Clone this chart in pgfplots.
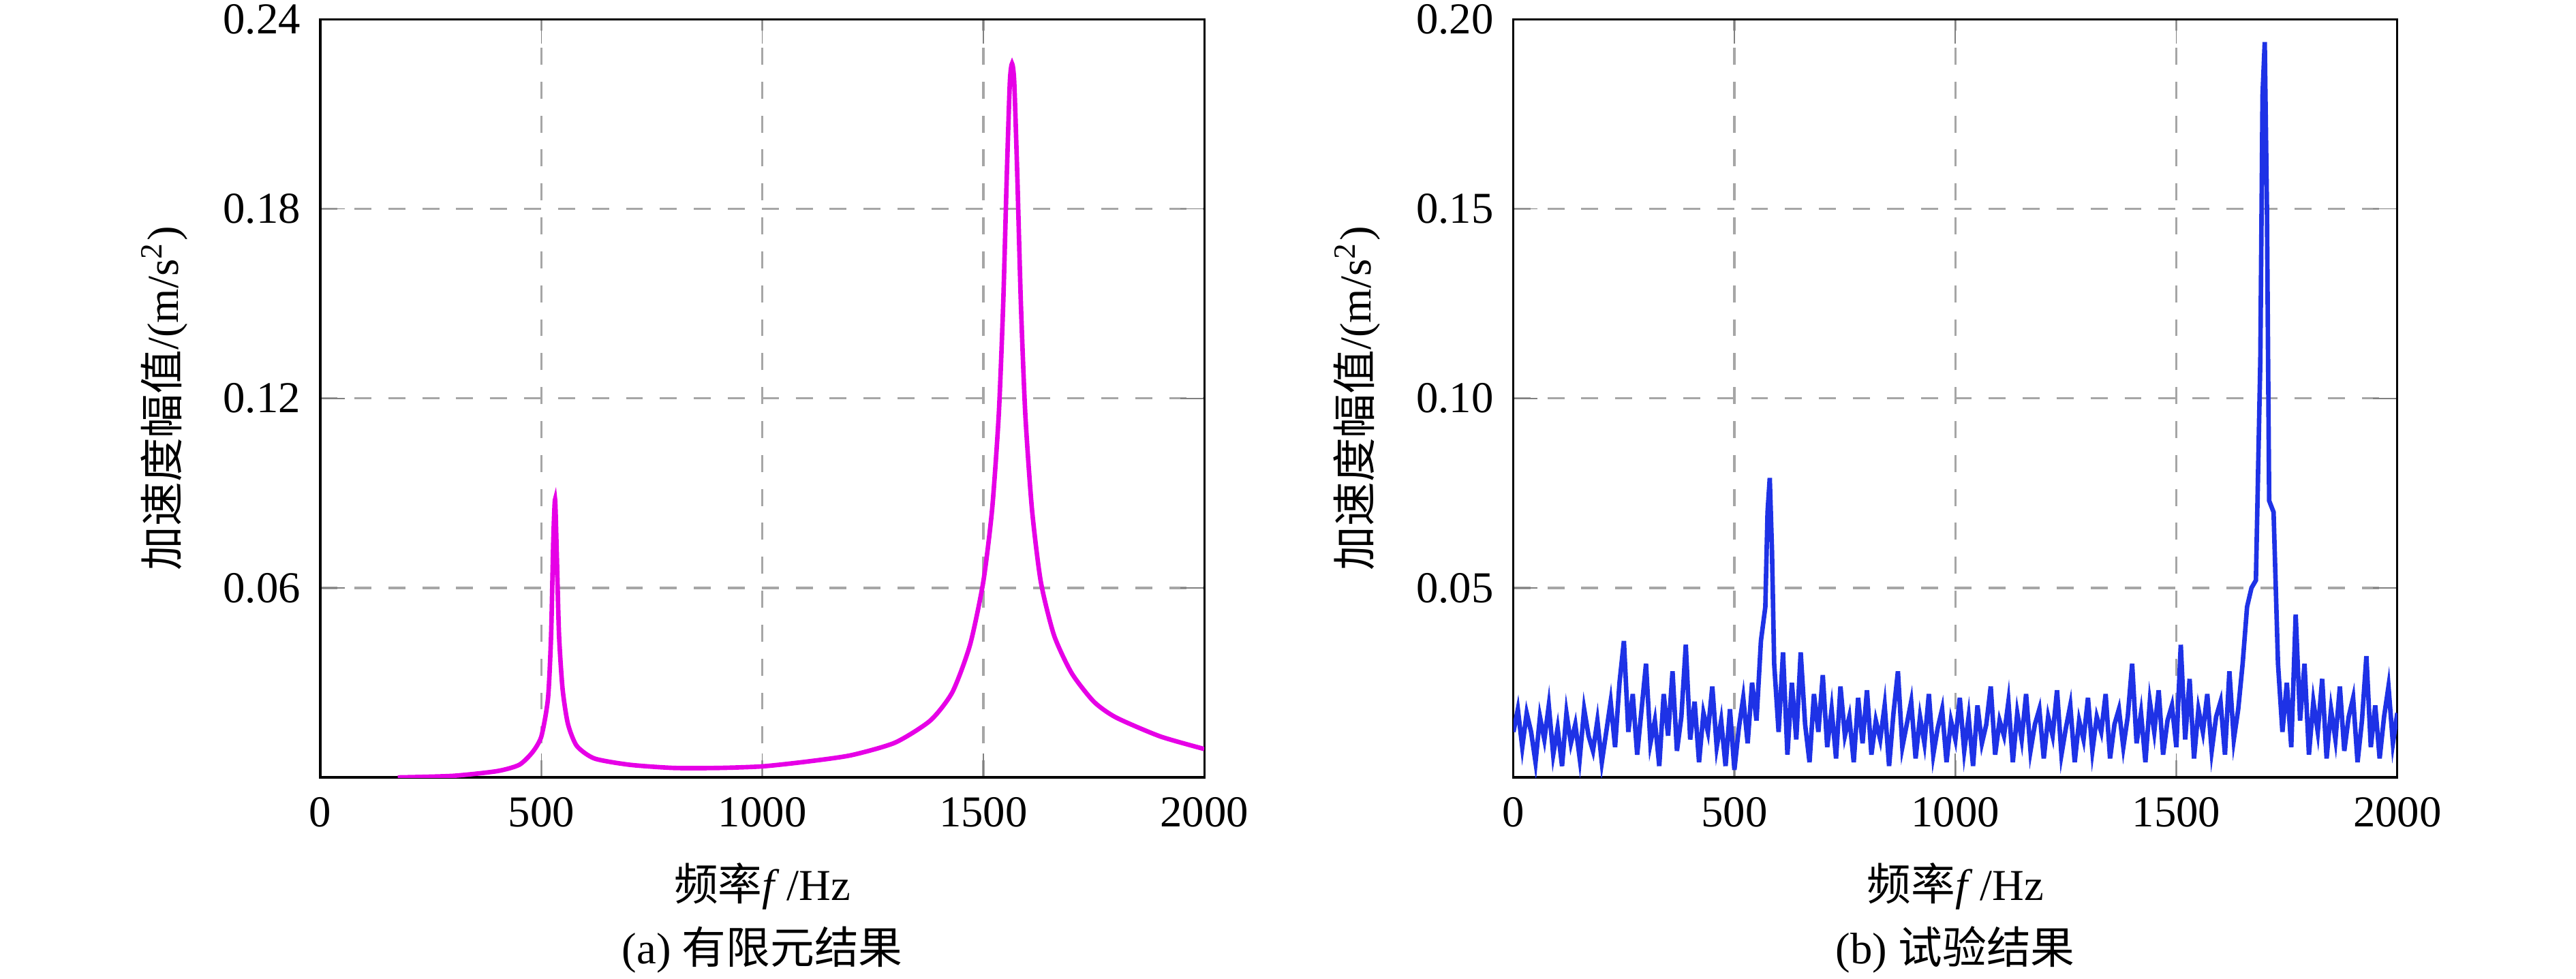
\documentclass[border=0pt]{standalone}
\usepackage{pgfplots}
\pgfplotsset{compat=1.18}
\usepackage{fontspec}
\setmainfont{Liberation Serif}
\newfontfamily\cjk{Noto Sans CJK SC}
\definecolor{mag}{RGB}{230,0,230}
\definecolor{blu}{RGB}{30,50,230}
\pgfplotsset{
  every axis/.append style={
    scale only axis, width=5.49cm, height=4.71cm,
    xmin=0, xmax=2000, ymin=0,
    xtick={0,500,1000,1500,2000},
    grid=major, major grid style={dashed, gray!70, thin},
    tick align=inside, axis line style={thin},
    /pgf/number format/assume math mode=true,
    /pgf/number format/set thousands separator={},
    tick label style={font=\fontsize{7.8}{9}\selectfont},
    label style={font=\fontsize{7.8}{9}\selectfont},
    scaled y ticks=false,
    yticklabel style={/pgf/number format/fixed,/pgf/number format/fixed zerofill,/pgf/number format/precision=2},
    xlabel={{\cjk 频率}\textit{f}\,/Hz},
    ylabel={{\cjk 加速度幅值}/(m/s\textsuperscript{2})},
    xlabel style={at={(axis description cs:0.5,-0.144)}, anchor=center},
    ylabel style={at={(axis description cs:-0.177,0.5)}, anchor=center},
  }
}
\begin{document}
\begin{tikzpicture}
\useasboundingbox (-1.99cm,-1.25cm) rectangle (14.01cm,4.83cm);
\begin{axis}[at={(0,0)}, ymax=0.24, ytick={0.06,0.12,0.18,0.24}]
\addplot[mag, line width=0.8pt, smooth, tension=0.4] coordinates {
(175,0) (300,0.0005) (400,0.002) (450,0.004) (480,0.008) (500,0.013) (515,0.025) (522,0.045) (527,0.075) (531,0.088) (535,0.07) (540,0.045) (548,0.028) (560,0.017) (580,0.01) (620,0.006) (700,0.004) (800,0.003) (900,0.003) (1000,0.0035) (1100,0.005) (1200,0.007) (1300,0.011) (1380,0.018) (1430,0.027) (1470,0.042) (1500,0.062) (1520,0.085) (1535,0.115) (1545,0.15) (1553,0.19) (1560,0.22) (1565,0.226) (1570,0.22) (1577,0.19) (1585,0.15) (1595,0.115) (1610,0.085) (1630,0.062) (1660,0.045) (1700,0.033) (1750,0.024) (1800,0.019) (1900,0.013) (2000,0.009)};
\end{axis}
\node[font=\fontsize{7.8}{9}\selectfont] at (2.745cm,-1.07cm) {(a) {\cjk 有限元结果}};
\begin{axis}[at={(7.41cm,0)}, ymax=0.20, ytick={0.05,0.10,0.15,0.20}]
\addplot[blu, line width=0.8pt] coordinates {
(0,0.012)(10,0.018)(20,0.008)(30,0.017)(40,0.012)(50,0.004)(60,0.016)(70,0.010)(80,0.019)(90,0.006)(100,0.013)(110,0.003)(120,0.017)(130,0.009)(140,0.014)(150,0.005)(160,0.018)(170,0.011)(180,0.007)(190,0.015)(200,0.004)(210,0.012)(220,0.020)(230,0.008)(240,0.025)(250,0.036)(260,0.012)(270,0.022)(280,0.006)(290,0.018)(300,0.030)(310,0.009)(320,0.015)(330,0.003)(340,0.022)(350,0.011)(360,0.028)(370,0.007)(380,0.016)(390,0.035)(400,0.010)(410,0.020)(420,0.004)(430,0.017)(440,0.012)(450,0.024)(460,0.008)(470,0.015)(480,0.003)(490,0.018)(500,0.002)(510,0.013)(520,0.021)(530,0.009)(540,0.025)(550,0.015)(560,0.036)(570,0.045)(575,0.07)(580,0.079)(585,0.06)(590,0.03)(600,0.012)(610,0.033)(620,0.006)(630,0.025)(640,0.010)(650,0.033)(660,0.014)(670,0.004)(680,0.022)(690,0.012)(700,0.027)(710,0.008)(720,0.018)(730,0.005)(740,0.024)(750,0.011)(760,0.016)(770,0.004)(780,0.021)(790,0.009)(800,0.023)(810,0.006)(820,0.015)(830,0.010)(840,0.019)(850,0.003)(860,0.017)(870,0.028)(880,0.008)(890,0.014)(900,0.020)(910,0.005)(920,0.016)(930,0.009)(940,0.022)(950,0.006)(960,0.013)(970,0.018)(980,0.004)(990,0.015)(1000,0.010)(1010,0.021)(1020,0.007)(1030,0.016)(1040,0.003)(1050,0.019)(1060,0.009)(1070,0.014)(1080,0.024)(1090,0.006)(1100,0.015)(1110,0.011)(1120,0.020)(1130,0.004)(1140,0.017)(1150,0.010)(1160,0.022)(1170,0.007)(1180,0.014)(1190,0.018)(1200,0.005)(1210,0.016)(1220,0.011)(1230,0.023)(1240,0.006)(1250,0.013)(1260,0.019)(1270,0.004)(1280,0.015)(1290,0.010)(1300,0.021)(1310,0.007)(1320,0.016)(1330,0.012)(1340,0.022)(1350,0.005)(1360,0.014)(1370,0.018)(1380,0.008)(1390,0.016)(1400,0.030)(1410,0.009)(1420,0.017)(1430,0.004)(1440,0.020)(1450,0.012)(1460,0.023)(1470,0.006)(1480,0.015)(1490,0.019)(1500,0.008)(1510,0.035)(1520,0.010)(1530,0.026)(1540,0.005)(1550,0.018)(1560,0.012)(1570,0.022)(1580,0.007)(1590,0.016)(1600,0.020)(1610,0.006)(1620,0.028)(1630,0.010)(1640,0.018)(1650,0.030)(1660,0.045)(1670,0.050)(1680,0.052)(1690,0.11)(1695,0.18)(1700,0.194)(1705,0.15)(1710,0.073)(1720,0.07)(1730,0.03)(1740,0.012)(1750,0.025)(1760,0.008)(1770,0.043)(1780,0.015)(1790,0.030)(1800,0.006)(1810,0.020)(1820,0.012)(1830,0.026)(1840,0.005)(1850,0.018)(1860,0.010)(1870,0.024)(1880,0.007)(1890,0.016)(1900,0.021)(1910,0.004)(1920,0.015)(1930,0.032)(1940,0.008)(1950,0.019)(1960,0.005)(1970,0.016)(1980,0.024)(1990,0.009)(2000,0.017)};
\end{axis}
\node[font=\fontsize{7.8}{9}\selectfont] at (10.155cm,-1.07cm) {(b) {\cjk 试验结果}};
\end{tikzpicture}
\end{document}
